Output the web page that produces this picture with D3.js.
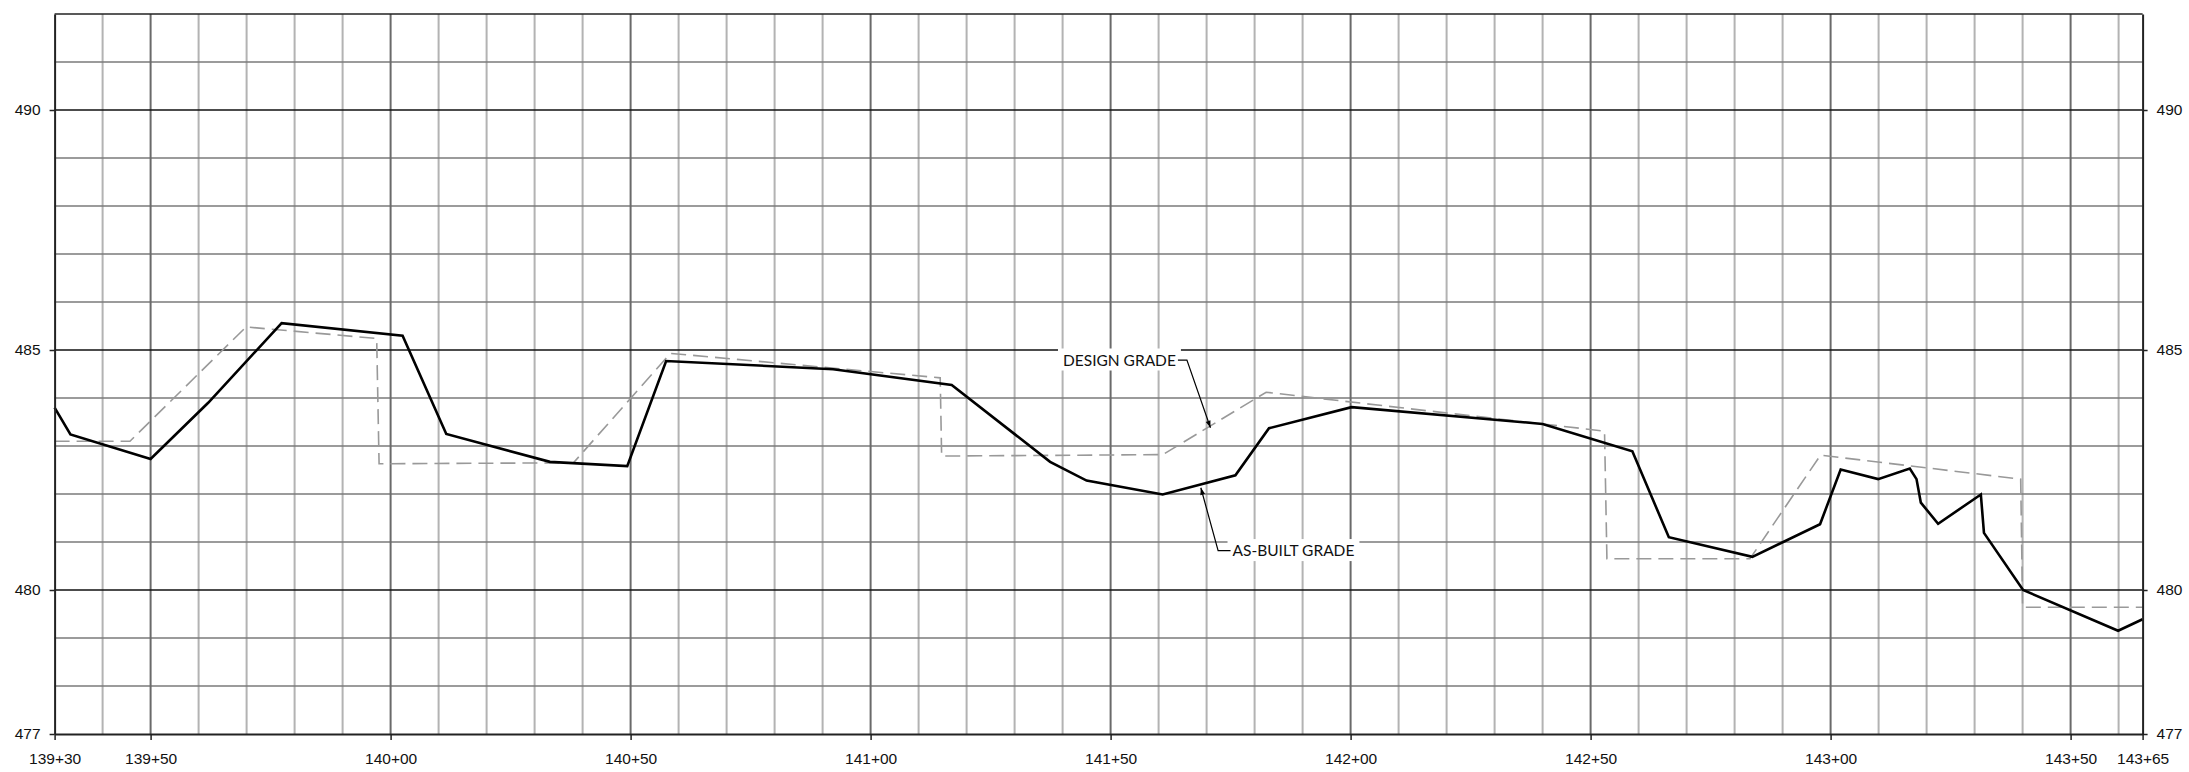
<!DOCTYPE html>
<html>
<head>
<meta charset="utf-8">
<script src="https://cdn.jsdelivr.net/npm/d3@7"></script>
<style>
  html, body { margin: 0; padding: 0; background: #fff; }
  svg { display: block; }
</style>
</head>
<body>
<script>
// ---- data ----
const asBuiltStation = [13930, 13933.3, 13950, 13962, 13977.3, 14002.5, 14011.6, 14033.2, 14049.3, 14057.4, 14092.2, 14116.9, 14137.4, 14145, 14160.85, 14176, 14183, 14200.2, 14240, 14258.7, 14266.3, 14283.7, 14297.8, 14302.1, 14309.9, 14316.5, 14317.9, 14318.8, 14322.4, 14331.3, 14331.95, 14340.1, 14359.9, 14365];
const asBuiltElev    = [483.80, 483.24, 482.73, 483.90, 485.56, 485.30, 483.25, 482.67, 482.58, 484.77, 484.60, 484.27, 482.67, 482.28, 481.99, 482.39, 483.37, 483.81, 483.46, 482.89, 481.10, 480.69, 481.37, 482.51, 482.31, 482.53, 482.31, 481.82, 481.38, 481.99, 481.19, 480.00, 479.15, 479.39];

const designStation = [13930, 13945.7, 13969.9, 13997.1, 13997.6, 14038.1, 14058.3, 14114.5, 14114.8, 14160.85, 14182.4, 14252.9, 14253.4, 14283.2, 14297.9, 14339.6, 14340, 14365];
const designElev    = [483.10, 483.10, 485.48, 485.24, 482.63, 482.65, 484.93, 484.42, 482.79, 482.82, 484.12, 483.31, 480.65, 480.65, 482.81, 482.31, 479.64, 479.64];

const xTickStations = [13930, 13950, 14000, 14050, 14100, 14150, 14200, 14250, 14300, 14350, 14365];
const yTickValues = [477, 480, 485, 490];

// annotations: [label, textStation, textElev, elbowStation, tipStation, tipElev, anchor]
const annDesign  = ["DESIGN GRADE", 14163.6, 484.79, 14165.9, 14170.8, 483.38, "end"];
const annAsBuilt = ["AS-BUILT GRADE", 14175.4, 480.82, 14172.4, 14168.8, 482.13, "start"];

// ---- layout ----
const W = 2189, H = 772;
const x = d3.scaleLinear().domain([13930, 14365]).range([54.6, 2142.6]);
const y = d3.scaleLinear().domain([477, 492]).range([734, 14]);

const fmtSta = s => `${Math.floor(s / 100)}+${String(Math.round(s % 100)).padStart(2, "0")}`;

const svg = d3.select("body").append("svg").attr("width", W).attr("height", H);

// grid
const gridSta = d3.range(13940, 14365, 10);
const gridElev = d3.range(478, 492, 1);

const g = svg.append("g");
g.selectAll("line.vmin").data(gridSta.filter(s => s % 50 !== 0)).join("line")
  .attr("x1", d => x(d)).attr("x2", d => x(d)).attr("y1", y(492)).attr("y2", y(477))
  .attr("stroke", "#b3b3b3").attr("stroke-width", 2);
g.selectAll("line.hmin").data(gridElev.filter(v => v % 5 !== 0)).join("line")
  .attr("x1", x(13930)).attr("x2", x(14365)).attr("y1", d => y(d)).attr("y2", d => y(d))
  .attr("stroke", "#7a7a7a").attr("stroke-width", 1.5);
g.selectAll("line.vmaj").data(gridSta.filter(s => s % 50 === 0)).join("line")
  .attr("x1", d => x(d)).attr("x2", d => x(d)).attr("y1", y(492)).attr("y2", y(477))
  .attr("stroke", "#6a6a6a").attr("stroke-width", 2);
g.selectAll("line.hmaj").data(gridElev.filter(v => v % 5 === 0)).join("line")
  .attr("x1", x(13930)).attr("x2", x(14365)).attr("y1", d => y(d)).attr("y2", d => y(d))
  .attr("stroke", "#111").attr("stroke-width", 1.5);

// lines
const line = d3.line().x(d => x(d[0])).y(d => y(d[1]));
svg.append("path")
  .datum(designStation.map((s, i) => [s, designElev[i]]))
  .attr("d", line).attr("fill", "none")
  .attr("stroke", "#999").attr("stroke-width", 1.6).attr("stroke-dasharray", "15,7");
svg.append("path")
  .datum(asBuiltStation.map((s, i) => [s, asBuiltElev[i]]))
  .attr("d", line).attr("fill", "none")
  .attr("stroke", "#000").attr("stroke-width", 2.6).attr("stroke-linejoin", "miter");

// axes
const fontFam = "'Liberation Sans', Arial, sans-serif";
const styleAxis = sel => {
  sel.selectAll("path.domain").attr("stroke", "#222").attr("stroke-width", 2);
  sel.selectAll(".tick line").attr("stroke", "#222").attr("stroke-width", 1.5);
  sel.selectAll("text").attr("font-family", fontFam).attr("font-size", 15.5).attr("fill", "#111");
};
svg.append("g").attr("transform", `translate(${x(13930)},0)`)
  .call(d3.axisLeft(y).tickValues(yTickValues).tickSize(5).tickSizeOuter(0).tickPadding(9).tickFormat(d3.format("d")))
  .call(styleAxis);
svg.append("g").attr("transform", `translate(${x(14365)},0)`)
  .call(d3.axisRight(y).tickValues(yTickValues).tickSize(5).tickSizeOuter(0).tickPadding(9).tickFormat(d3.format("d")))
  .call(styleAxis);
svg.append("g").attr("transform", `translate(0,${y(477)})`)
  .call(d3.axisBottom(x).tickValues(xTickStations).tickSize(6).tickSizeOuter(0).tickPadding(13).tickFormat(fmtSta))
  .call(styleAxis);
// top border
svg.append("line").attr("x1", x(13930)).attr("x2", x(14365)).attr("y1", y(492)).attr("y2", y(492))
  .attr("stroke", "#222").attr("stroke-width", 1.5);

// annotations
const defs = svg.append("defs");
defs.append("marker").attr("id", "arr").attr("viewBox", "0 0 10 10")
  .attr("refX", 10).attr("refY", 5).attr("markerWidth", 9).attr("markerHeight", 7)
  .attr("markerUnits", "userSpaceOnUse").attr("orient", "auto")
  .append("path").attr("d", "M0,1.5 L10,5 L0,8.5 Z").attr("fill", "#000");

function annotate(a) {
  const [label, ts, te, es, tips, tipe, anchor] = a;
  const grp = svg.append("g");
  const txt = grp.append("text")
    .attr("x", x(ts)).attr("y", y(te)).attr("dy", "0.35em")
    .attr("text-anchor", anchor)
    .attr("font-family", "Lato, 'Open Sans', sans-serif").attr("font-size", 15.5)
    .attr("fill", "#111").text(label);
  const bb = txt.node().getBBox();
  grp.insert("rect", "text").attr("x", bb.x - 5).attr("y", bb.y - 2)
    .attr("width", bb.width + 10).attr("height", bb.height + 4).attr("fill", "#fff");
  const ex = x(es), ey = y(te);
  const sx = anchor === "end" ? bb.x + bb.width + 2 : bb.x - 2;
  grp.append("path")
    .attr("d", `M${sx},${ey} L${ex},${ey} L${x(tips)},${y(tipe)}`)
    .attr("fill", "none").attr("stroke", "#000").attr("stroke-width", 1.2)
    .attr("marker-end", "url(#arr)");
}
annotate(annDesign);
annotate(annAsBuilt);
</script>
</body>
</html>
